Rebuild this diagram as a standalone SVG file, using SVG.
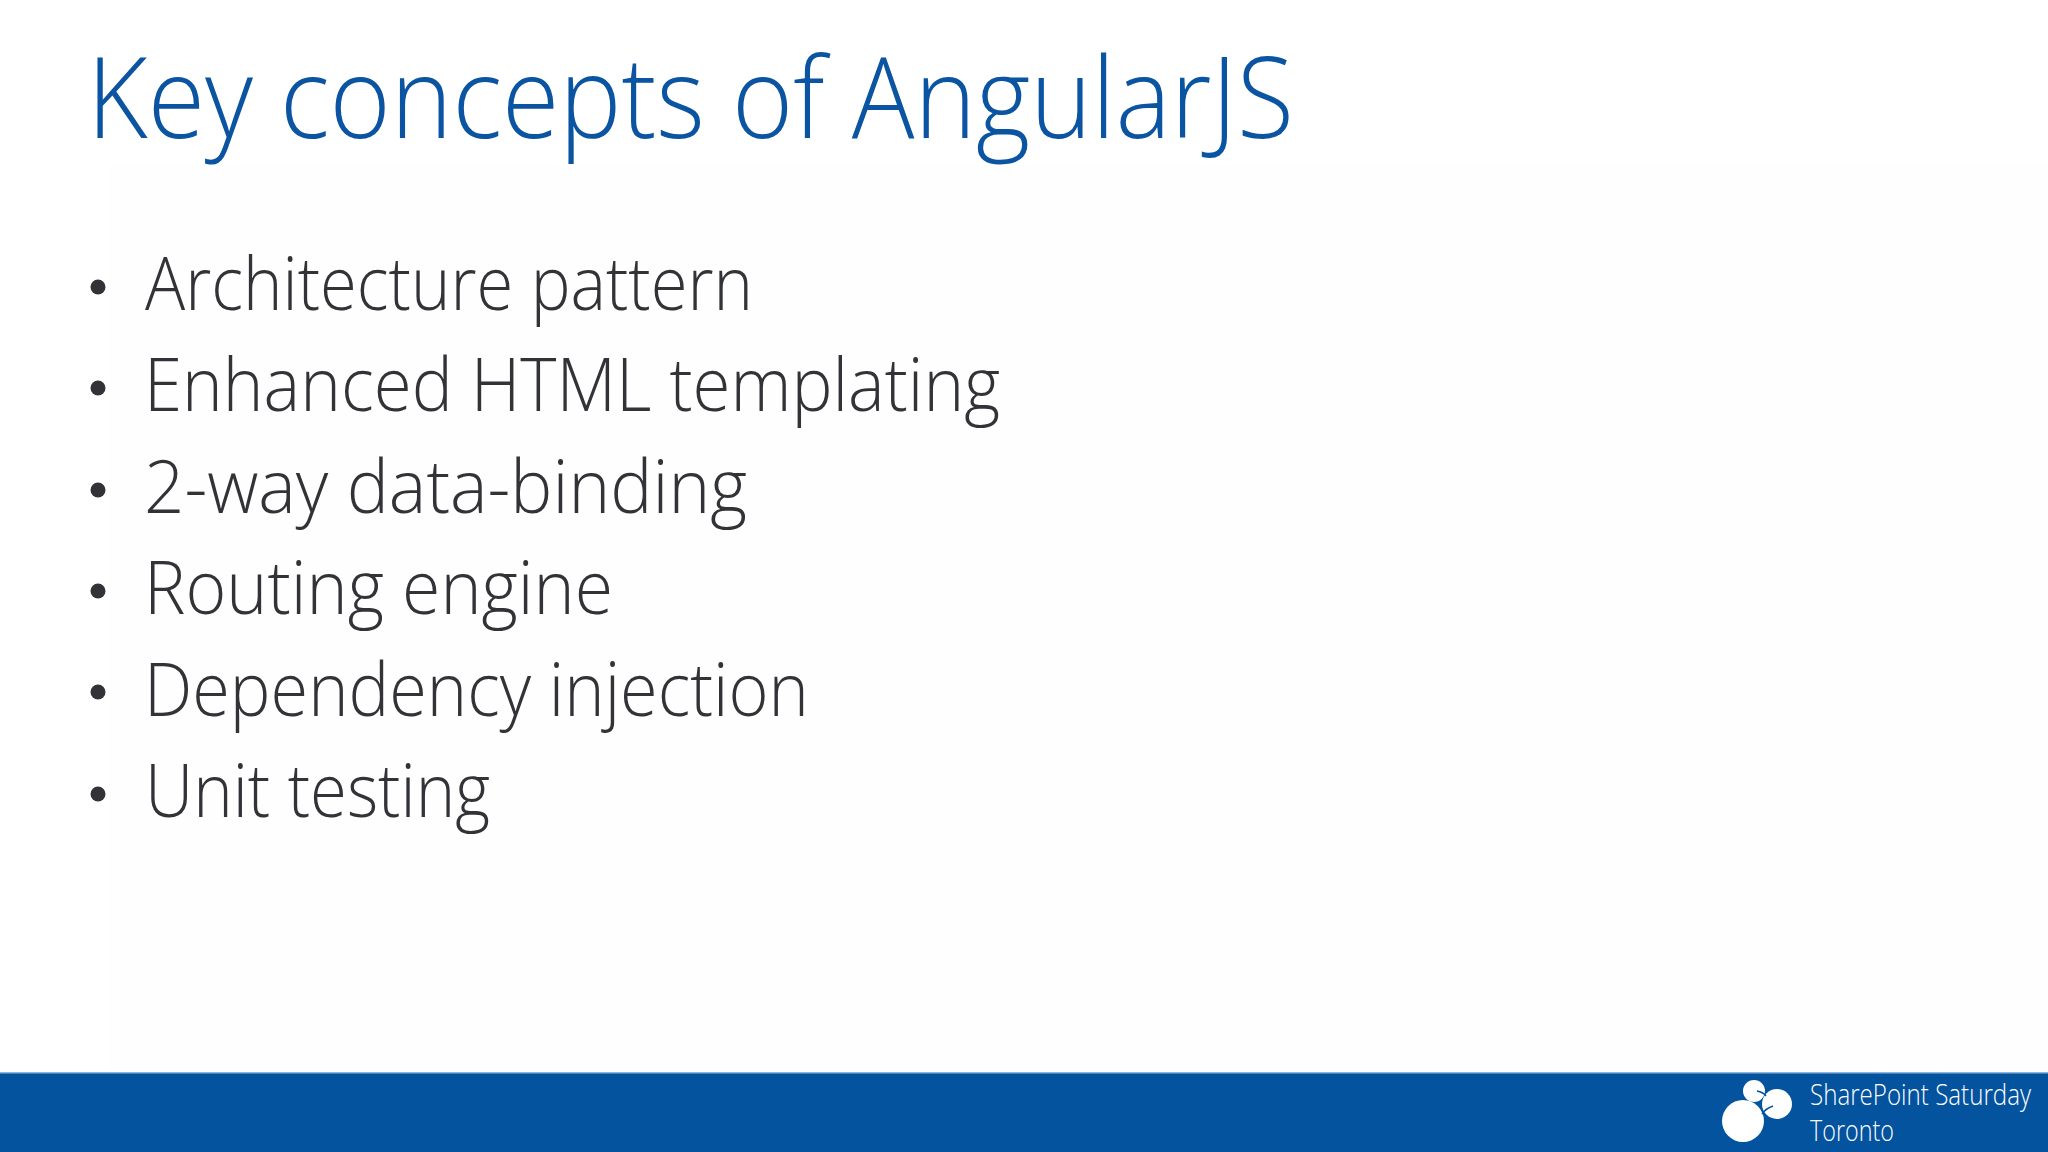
<svg xmlns="http://www.w3.org/2000/svg" width="2048" height="1152" viewBox="0 0 2048 1152">
<style>
text{font-family:"Open Sans","Noto Sans","Liberation Sans",sans-serif;font-weight:300}
.t{font-size:113px;fill:#0a54a2}
.b{font-size:74px;fill:#333237}
.f{font-size:29px;fill:#fff}
.d{fill:#333237}
</style>
<rect width="2048" height="1152" fill="#fff"/>
<rect x="110" y="165" width="1938" height="907" fill="#fefefe"/>
<g id="title"><text class="t" x="87" y="138" textLength="1207" lengthAdjust="spacingAndGlyphs">Key concepts of AngularJS</text></g>
<g id="bullets">
<circle class="d" cx="98" cy="287" r="7.5"/><text class="b" x="145" y="310" textLength="608" lengthAdjust="spacingAndGlyphs">Architecture pattern</text>
<circle class="d" cx="98" cy="388" r="7.5"/><text class="b" x="144" y="411" textLength="856" lengthAdjust="spacingAndGlyphs">Enhanced HTML templating</text>
<circle class="d" cx="98" cy="490" r="7.5"/><text class="b" x="144" y="513" textLength="603" lengthAdjust="spacingAndGlyphs">2-way data-binding</text>
<circle class="d" cx="98" cy="591" r="7.5"/><text class="b" x="144" y="614" textLength="469" lengthAdjust="spacingAndGlyphs">Routing engine</text>
<circle class="d" cx="98" cy="692" r="7.5"/><text class="b" x="144" y="716" textLength="665" lengthAdjust="spacingAndGlyphs">Dependency injection</text>
<circle class="d" cx="98" cy="794" r="7.5"/><text class="b" x="145" y="817" textLength="345" lengthAdjust="spacingAndGlyphs">Unit testing</text>
</g>
<g id="footer">
<rect y="1073" width="2048" height="79" fill="#03539f"/>
<rect y="1072" width="2048" height="1.5" fill="#8db6dc"/>
<g id="logo">
<circle cx="1754" cy="1091" r="11" fill="#fff"/>
<circle cx="1777" cy="1104" r="15" fill="#fff"/>
<circle cx="1743" cy="1121" r="21" fill="#fff"/>
<path d="M1757 1091Q1763 1092 1766 1096M1762 1114Q1765 1109 1773 1106" fill="none" stroke="#03539f" stroke-width="1.5"/>
</g>
<text class="f" x="1810" y="1105" textLength="221" lengthAdjust="spacingAndGlyphs">SharePoint Saturday</text>
<text class="f" x="1810" y="1141" textLength="84" lengthAdjust="spacingAndGlyphs">Toronto</text>
</g>
</svg>
